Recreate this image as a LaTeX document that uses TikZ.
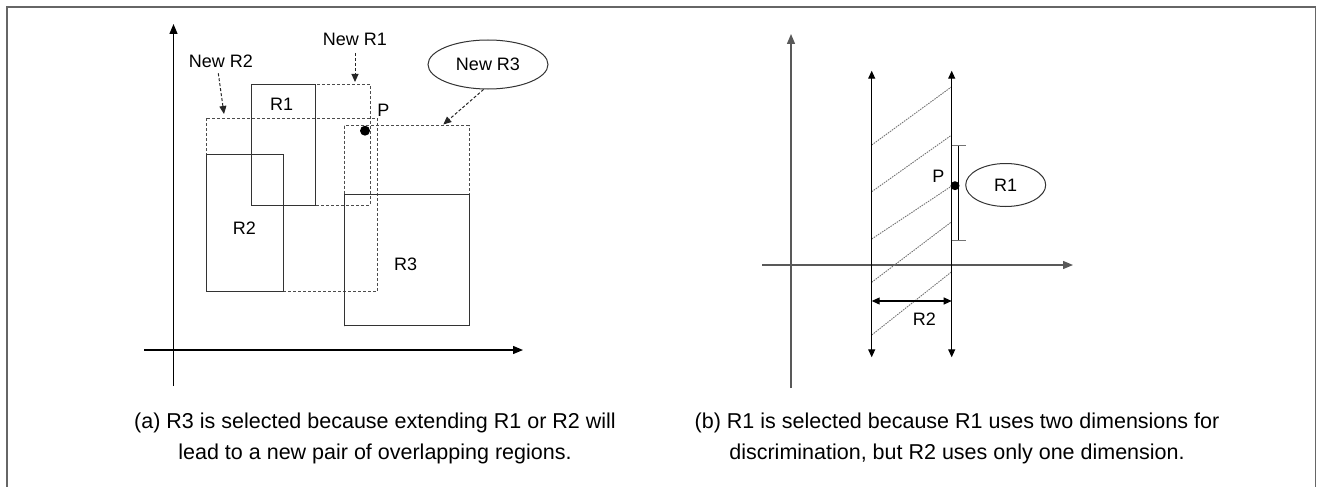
\documentclass[tikz,border=0pt]{standalone}
\usepackage{fontspec}
\setmainfont{Liberation Sans}
\usetikzlibrary{arrows.meta,shapes.geometric}
\begin{document}
\begin{tikzpicture}[x=1pt,y=-1pt,
  lbl/.style={font=\fontsize{18}{21}\selectfont, inner sep=0pt},
  captxt/.style={font=\fontsize{21.5}{26}\selectfont, inner sep=0pt, anchor=base},
  axis/.style={line width=1.3pt, -{Triangle[length=10pt,width=8pt]}},
  solidbox/.style={draw=black!80, line width=1pt},
  dashbox/.style={draw=black!70, line width=1pt, dash pattern=on 3pt off 2pt},
  dasharrow/.style={draw=black!85, line width=1pt, dash pattern=on 3pt off 2pt, -{Triangle[length=8pt,width=7pt]}},
  hatch/.style={draw=black!55, line width=0.9pt, dash pattern=on 1.5pt off 1pt},
  oval/.style={draw=black!80, line width=1pt, ellipse, inner sep=0pt},
  dot/.style={circle, fill=black, inner sep=0pt}]
\useasboundingbox (0,0) rectangle (1317,487);
% frame
\draw[black!60, line width=1.5pt] (7,487) -- (7,7) -- (1315.7,7) -- (1315.7,487);

% ---------- panel (a) ----------
\coordinate (ayb) at (173.5,386);
\coordinate (ayt) at (173.5,24);
\coordinate (axl) at (144,350);
\coordinate (axr) at (523,350);
\draw[axis] (ayb) -- (ayt);
\draw[axis] (axl) -- (axr);

\draw[dashbox] (251.7,84.3) rectangle (370,205);
\draw[dashbox] (206.7,118.3) rectangle (377.3,291.7);
\draw[dashbox] (344,125.7) rectangle (469,325.7);
\draw[solidbox] (251.7,84.3) rectangle (315,205);
\draw[solidbox] (206.7,154.3) rectangle (283.3,291.7);
\draw[solidbox] (344,194.7) rectangle (469,325.7);

\node[lbl] (r1) at (281.7,104) {R1};
\node[lbl] (r2) at (244.3,228) {R2};
\node[lbl] (r3) at (405.7,264) {R3};
\node[dot, minimum size=10pt] (pa) at (365,130.7) {};
\node[lbl] (pal) at (383.3,110) {P};

\node[lbl] (nr1) at (355,39) {New R1};
\coordinate (nr1s) at (355,53);
\coordinate (nr1t) at (355,82);
\draw[dasharrow] (nr1s) -- (nr1t);
\node[lbl] (nr2) at (221,61) {New R2};
\coordinate (nr2s) at (218.3,73.3);
\coordinate (nr2t) at (224,114);
\draw[dasharrow] (nr2s) -- (nr2t);
\node[oval, minimum width=120pt, minimum height=49pt, font=\fontsize{18}{21}\selectfont] (nr3) at (488,64.5) {New R3};
\coordinate (nr3t) at (443.3,124.5);
\draw[dasharrow] (nr3.-100) -- (nr3t);

\node[captxt] (capa1) at (375,428.3) {(a) R3 is selected because extending R1 or R2 will};
\node[captxt] (capa2) at (375,459) {lead to a new pair of overlapping regions.};

% ---------- panel (b) ----------
\coordinate (byb) at (791,388);
\coordinate (byt) at (791,34);
\coordinate (bxl) at (762,265);
\coordinate (bxr) at (1073,265);
\draw[axis, draw=black!65] (byb) -- (byt);
\draw[axis, draw=black!65] (bxl) -- (bxr);

\draw[hatch] (871.7,145) -- (951.7,86.7);
\draw[hatch] (871.7,191.7) -- (951.7,135);
\draw[hatch] (871.7,239) -- (951.7,186);
\draw[hatch] (871.7,282.3) -- (951.7,221.7);
\draw[hatch] (871.7,335) -- (951.7,271.7);

\coordinate (l1t) at (871.7,70.7);
\coordinate (l1b) at (871.7,357.3);
\coordinate (l2t) at (951.7,70.7);
\coordinate (l2b) at (951.7,357.3);
\draw[line width=1.1pt, {Triangle[length=8pt,width=7pt]}-{Triangle[length=8pt,width=7pt]}] (l1b) -- (l1t);
\draw[line width=1.1pt, {Triangle[length=8pt,width=7pt]}-{Triangle[length=8pt,width=7pt]}] (l2b) -- (l2t);

% bracket
\draw[line width=1pt] (958.3,145) -- (958.3,240);
\draw[black!55, line width=1pt] (951.7,145) -- (965.7,145);
\draw[black!55, line width=1pt] (951.7,240) -- (965.7,240);

\node[dot, minimum size=9pt] (pb) at (955,185.7) {};
\node[lbl, fill=white, inner sep=1pt] (pbl) at (938.3,176.7) {P};
\node[oval, minimum width=80pt, minimum height=43pt, font=\fontsize{18}{21}\selectfont] (er1) at (1005.7,185) {R1};

\coordinate (d1) at (871.7,301);
\coordinate (d2) at (951.7,301);
\draw[line width=1.1pt, {Triangle[length=8pt,width=7pt]}-{Triangle[length=8pt,width=7pt]}] (d1) -- (d2);
\node[lbl] (r2b) at (924.3,319) {R2};

\node[captxt] (capb1) at (957,428.3) {(b) R1 is selected because R1 uses two dimensions for};
\node[captxt] (capb2) at (957,459) {discrimination, but R2 uses only one dimension.};
\end{tikzpicture}
\end{document}
